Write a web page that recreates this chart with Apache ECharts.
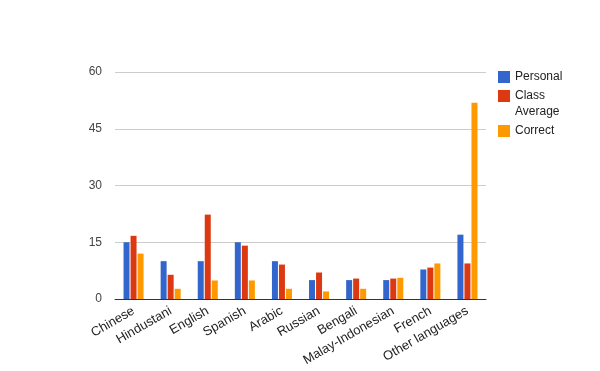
<!DOCTYPE html>
<html><head><meta charset="utf-8">
<script src="https://cdn.jsdelivr.net/npm/echarts@6/dist/echarts.min.js"></script>
<style>html,body{margin:0;padding:0;background:#fff}#c{width:600px;height:371px}</style>
</head><body><div id="c"></div>
<script>
var categories = ["Chinese","Hindustani","English","Spanish","Arabic","Russian","Bengali","Malay-Indonesian","French","Other languages"];
var personal = [15, 10, 10, 15, 10, 5, 5, 5, 7.8, 17];
var classAverage = [16.7, 6.4, 22.3, 14.1, 9.1, 7, 5.4, 5.4, 8.3, 9.4];
var correct = [12, 2.7, 4.9, 4.9, 2.7, 2, 2.7, 5.6, 9.4, 51.9];
var yTicks = [0, 15, 30, 45, 60];

var chart = echarts.init(document.getElementById('c'));
var font = 'Arial, "Liberation Sans", sans-serif';
chart.setOption({
  animation: false,
  color: ['#3366cc', '#dc3912', '#ff9900'],
  grid: {left: 115, right: 114, top: 72, bottom: 72},
  legend: [{
    orient: 'vertical', left: 498, top: 71, padding: 0, itemWidth: 12, itemHeight: 12, itemGap: 7, itemTextGap: 5,
    icon: 'rect', itemStyle: {borderWidth: 0},
    textStyle: {fontFamily: font, fontSize: 12, color: '#222'},
    formatter: function (n) { return n === 'Class Average' ? 'Class' : n; },
    data: ['Personal', 'Class Average']
  }, {
    orient: 'vertical', left: 498, top: 125, padding: 0, itemWidth: 12, itemHeight: 12, itemTextGap: 5,
    icon: 'rect', itemStyle: {borderWidth: 0},
    textStyle: {fontFamily: font, fontSize: 12, color: '#222'},
    data: ['Correct']
  }],
  graphic: [{type: 'text', left: 515, top: 106, style: {text: 'Average', font: '12px ' + font, fill: '#222'}}],
  xAxis: {
    type: 'category', data: categories,
    axisLine: {lineStyle: {color: '#333', width: 1}},
    axisTick: {show: false},
    axisLabel: {rotate: 30, interval: 0, fontFamily: font, fontSize: 13, color: '#222', margin: 11}
  },
  yAxis: {
    type: 'value', min: yTicks[0], max: yTicks[yTicks.length - 1], interval: 15,
    axisLine: {show: false}, axisTick: {show: false},
    splitLine: {lineStyle: {color: '#cccccc'}},
    axisLabel: {fontFamily: font, fontSize: 12, color: '#444', margin: 13}
  },
  series: [
    {name: 'Personal', type: 'bar', data: personal, barWidth: 6, barGap: '17%'},
    {name: 'Class Average', type: 'bar', data: classAverage, barWidth: 6, barGap: '17%'},
    {name: 'Correct', type: 'bar', data: correct, barWidth: 6, barGap: '17%'}
  ]
});
</script></body></html>
